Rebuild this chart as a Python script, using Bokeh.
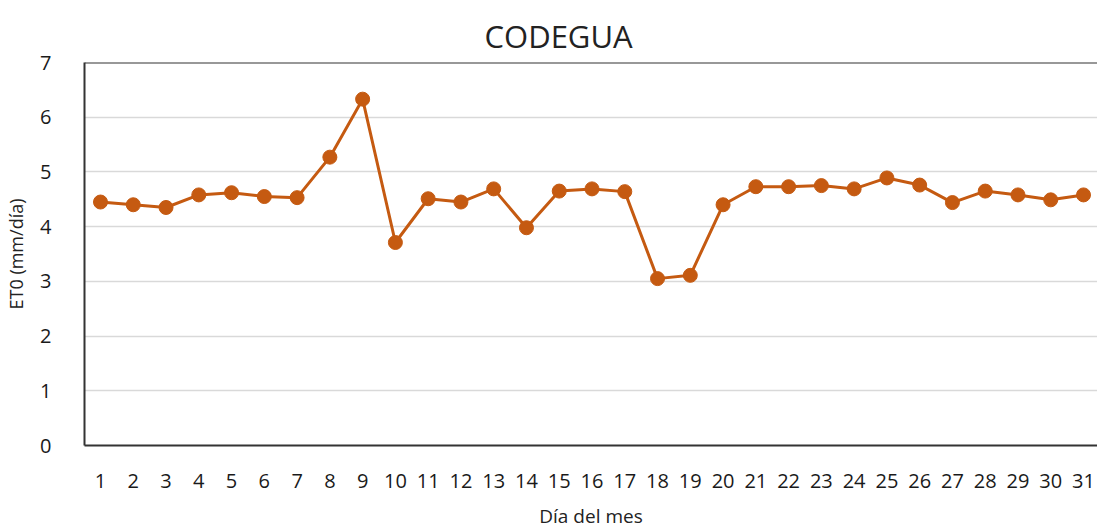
from bokeh.plotting import figure
from bokeh.models import Range1d, FixedTicker, Title, Span
from bokeh.embed import file_html
from bokeh.resources import INLINE

days = list(range(1, 32))
eto = [4.45, 4.40, 4.35, 4.58, 4.62, 4.55, 4.53, 5.27, 6.33, 3.71,
       4.51, 4.45, 4.69, 3.98, 4.65, 4.69, 4.64, 3.05, 3.11, 4.40,
       4.73, 4.73, 4.75, 4.69, 4.89, 4.76, 4.44, 4.65, 4.58, 4.49, 4.58]
y_ticks = [0, 1, 2, 3, 4, 5, 6, 7]
title_text = "CODEGUA"

FONT = "Open Sans"
COLOR = "#C55A11"

p = figure(width=1097, height=531, output_backend="svg", toolbar_location=None,
           x_range=Range1d(0.512, 31.427), y_range=Range1d(0, 7),
           min_border_left=84, min_border_right=0, min_border_top=62, min_border_bottom=85)

p.title = Title(text=title_text, align="left", offset=400, vertical_align="middle",
                text_font=FONT, text_font_size="31px", text_font_style="normal",
                text_color="#222222")

p.line(days, eto, line_color=COLOR, line_width=3)
p.scatter(days, eto, size=14, fill_color=COLOR, line_color=COLOR)

p.xaxis.ticker = FixedTicker(ticks=days)
p.yaxis.ticker = FixedTicker(ticks=y_ticks)
for ax in (p.xaxis, p.yaxis):
    ax.major_tick_line_color = None
    ax.minor_tick_line_color = None
    ax.axis_line_color = "#333333"
    ax.axis_line_width = 2
    ax.major_label_text_font = FONT
    ax.major_label_text_color = "#1a1a1a"
    ax.axis_label_text_font = FONT
    ax.axis_label_text_font_style = "normal"
    ax.axis_label_text_color = "#222222"

p.xaxis.major_label_text_font_size = "20px"
p.yaxis.major_label_text_font_size = "20px"

p.xaxis.axis_label = "Día del mes"
p.xaxis.axis_label_text_font_size = "19px"
p.xaxis.major_label_standoff = 22
p.xaxis.axis_label_standoff = 12

p.yaxis.axis_label = "ET0 (mm/día)"
p.yaxis.axis_label_text_font_size = "18px"
p.yaxis.major_label_standoff = 27
p.yaxis.axis_label_standoff = 9

p.xgrid.grid_line_color = None
p.ygrid.grid_line_color = "#d9d9d9"
p.ygrid.grid_line_width = 1.5

p.outline_line_color = None
p.add_layout(Span(location=7, dimension="width", line_color="#333333", line_width=2))
p.background_fill_color = "white"
p.border_fill_color = "white"

open("out.html", "w").write(file_html(p, INLINE))
